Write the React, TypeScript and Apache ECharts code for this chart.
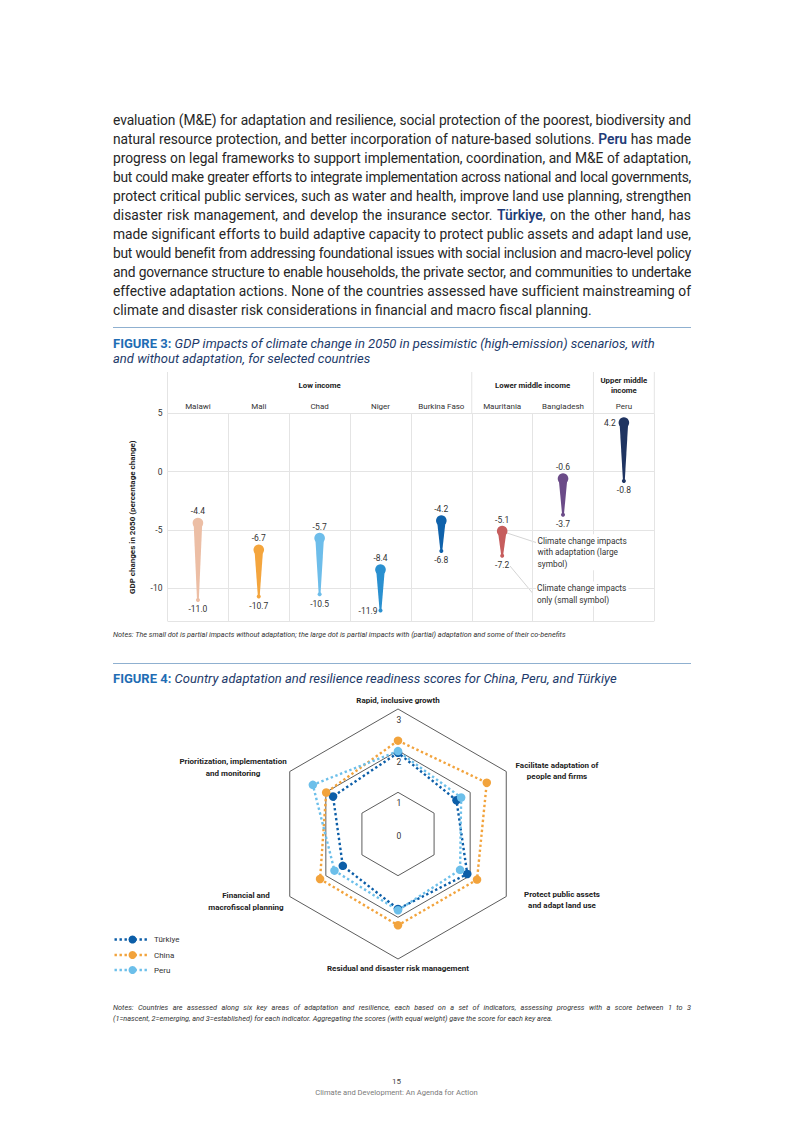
import React, { useEffect, useLayoutEffect, useRef } from "react";
import * as echarts from "echarts";

// ---------------- DATA ----------------
const countries = ["Malawi", "Mali", "Chad", "Niger", "Burkina Faso", "Mauritania", "Bangladesh", "Peru"];
const withAdaptation = [-4.4, -6.7, -5.7, -8.4, -4.2, -5.1, -0.6, 4.2];
const impactsOnly = [-11.0, -10.7, -10.5, -11.9, -6.8, -7.2, -3.7, -0.8];
const countryColors = ["#ecbea5", "#f4a53d", "#6dbdea", "#2a90d0", "#0f62ab", "#c65d5d", "#6b4b88", "#1f3461"];
const incomeGroups = ["Low income", "Lower middle income", "Upper middle\nincome"];
const incomeGroupSpans = [5, 2, 1];
const yTicks = [5, 0, -5, -10];
const yMin = -12.8;
const yMax = 5;

const radarAxes = [
  "Rapid, inclusive growth",
  "Prioritization, implementation\nand monitoring",
  "Financial and\nmacrofiscal planning",
  "Residual and disaster risk management",
  "Protect public assets\nand adapt land use",
  "Facilitate adaptation of\npeople and firms",
];
const radarCountries = ["Türkiye", "China", "Peru"];
const turkiyeScores = [1.95, 1.8, 1.53, 1.8, 1.92, 1.62];
const chinaScores = [2.24, 1.99, 2.16, 2.19, 2.19, 2.46];
const peruScores = [1.99, 2.36, 1.76, 1.83, 1.72, 1.75];
const radarColors = ["#0c5ea8", "#f2a33c", "#6cbfea"];
const radarTicks = [0, 1, 2, 3];

const paragraphLines = [
  "evaluation (M&E) for adaptation and resilience, social protection of the poorest, biodiversity and",
  "natural resource protection, and better incorporation of nature-based solutions. **Peru** has made",
  "progress on legal frameworks to support implementation, coordination, and M&E of adaptation,",
  "but could make greater efforts to integrate implementation across national and local governments,",
  "protect critical public services, such as water and health, improve land use planning, strengthen",
  "disaster risk management, and develop the insurance sector. **Türkiye**, on the other hand, has",
  "made significant efforts to build adaptive capacity to protect public assets and adapt land use,",
  "but would benefit from addressing foundational issues with social inclusion and macro-level policy",
  "and governance structure to enable households, the private sector, and communities to undertake",
  "effective adaptation actions. None of the countries assessed have sufficient mainstreaming of",
  "climate and disaster risk considerations in financial and macro fiscal planning.",
];

const FONT = 'Roboto, "Liberation Sans", Arial, sans-serif';

function rich(s: string) {
  const parts = s.split(/\*\*(.+?)\*\*/);
  return parts.map((p, i) =>
    i % 2 === 1 ? (
      <span key={i} style={{ color: "#1f3c78", fontWeight: 600 }}>{p}</span>
    ) : (
      <React.Fragment key={i}>{p}</React.Fragment>
    )
  );
}

function txt(x: number, y: number, text: string, o: any = {}) {
  const align = o.align || "center";
  const va = o.va || "middle";
  const style: any = {
    text,
    align,
    verticalAlign: va,
    textAlign: align,
    textVerticalAlign: va,
    fontSize: o.size || 8,
    fontWeight: o.weight || "normal",
    fontFamily: FONT,
    fill: o.color || "#333",
    lineHeight: o.lh || 11,
  };
  if (o.bg) {
    style.backgroundColor = o.bg;
    style.padding = [1, 2, 1, 1];
  }
  return { type: "text", x, y, silent: true, z: o.z || 10, style };
}

function line(x1: number, y1: number, x2: number, y2: number, stroke: string, w = 1, dash?: number[]) {
  return {
    type: "line",
    silent: true,
    shape: { x1, y1, x2, y2 },
    style: { stroke, lineWidth: w, lineDash: dash },
  };
}

export default function App() {
  const chartRef = useRef<HTMLDivElement>(null);
  const overlayRef = useRef<HTMLDivElement>(null);

  useLayoutEffect(() => {
    const root = overlayRef.current;
    if (!root) return;
    const lines = root.querySelectorAll<HTMLDivElement>('[data-just="1"]');
    lines.forEach((el) => {
      const parent = el.parentElement;
      if (!parent) return;
      const probe = el.cloneNode(true) as HTMLDivElement;
      probe.removeAttribute("data-just");
      probe.style.position = "absolute";
      probe.style.left = "0px";
      probe.style.top = "0px";
      probe.style.visibility = "hidden";
      probe.style.width = "auto";
      probe.style.whiteSpace = "nowrap";
      probe.style.display = "inline-block";
      probe.style.textAlign = "left";
      probe.style.textAlignLast = "auto";
      probe.style.letterSpacing = "0px";
      parent.appendChild(probe);
      const w = probe.getBoundingClientRect().width;
      parent.removeChild(probe);
      const target = el.getBoundingClientRect().width;
      if (w > target - 3) {
        const n = (el.textContent || "").length;
        el.style.letterSpacing = (target - 3 - w) / n + "px";
      }
    });
  }, []);

  useEffect(() => {
    if (!chartRef.current) return;
    const chart = echarts.init(chartRef.current, null, { renderer: "svg" });

    const G = { left: 167.5, top: 413.3, width: 486.8, height: 207.7 };
    const colW = G.width / countries.length;
    const gridColor = "#e4e4e4";

    const graphics: any[] = [];
    // income group header
    const bounds = [0];
    incomeGroupSpans.forEach((s) => bounds.push(bounds[bounds.length - 1] + s));
    bounds.forEach((b) => graphics.push(line(G.left + b * colW, 372, G.left + b * colW, G.top, gridColor, 1)));
    incomeGroups.forEach((g, i) => {
      const cx = G.left + ((bounds[i] + bounds[i + 1]) / 2) * colW;
      graphics.push(txt(cx, 385.5, g, { weight: "bold", size: 7.8, color: "#222", lh: 10.5 }));
    });
    // annotations
    graphics.push(line(507, 533, 536, 542.5, "#c9c9c9", 0.8));
    graphics.push(line(510, 566, 532.5, 593, "#c9c9c9", 0.8));
    graphics.push(
      txt(536.5, 534.3, "Climate change impacts\nwith adaptation (large\nsymbol)", { align: "left", va: "top", size: 8.3, lh: 11.3, color: "#333", bg: "#fff" })
    );
    graphics.push(
      txt(536, 581.6, "Climate change impacts\nonly (small symbol)", { align: "left", va: "top", size: 8.3, lh: 11.3, color: "#333", bg: "#fff" })
    );

    // radar geometry
    const RC = [398, 834];
    const RR = 125;
    radarTicks.forEach((v) => {
      const y = RC[1] - (v * RR) / radarTicks[radarTicks.length - 1] + (v === 0 ? 2 : 11);
      graphics.push(txt(RC[0] + 1, y, String(v), { size: 8.5, color: "#333", z: 1 }));
    });
    const radarLabelPos = [
      [398, 700],
      [233, 767.5],
      [246, 901.5],
      [398, 968.5],
      [562, 900],
      [557, 771],
    ];
    radarAxes.forEach((n, i) =>
      graphics.push(txt(radarLabelPos[i][0], radarLabelPos[i][1], n, { weight: "bold", size: 8, color: "#222", lh: 11.5 }))
    );
    // legend
    const legendY = [939.5, 955, 970];
    radarCountries.forEach((c, i) => {
      graphics.push(line(114.5, legendY[i], 149.5, legendY[i], radarColors[i], 2.4, [2.4, 2.6]));
      graphics.push({
        type: "circle",
        silent: true,
        shape: { cx: 132.5, cy: legendY[i], r: 4 },
        style: { fill: radarColors[i] },
      });
      graphics.push(txt(154, legendY[i], c, { align: "left", size: 8, color: "#333" }));
    });

    const scoreSets = [turkiyeScores, chinaScores, peruScores];

    const option: any = {
      animation: false,
      textStyle: { fontFamily: FONT },
      grid: { left: G.left, top: G.top, width: G.width, height: G.height, containLabel: false },
      xAxis: {
        type: "category",
        position: "top",
        data: countries,
        boundaryGap: true,
        axisLine: { show: false },
        axisTick: { show: true, length: 18, inside: false, lineStyle: { color: gridColor, width: 1 } },
        axisLabel: { margin: 3, fontSize: 8, color: "#333", interval: 0 },
        splitLine: { show: true, interval: 0, lineStyle: { color: gridColor, width: 1 } },
      },
      yAxis: {
        type: "value",
        min: yMin,
        max: yMax,
        splitNumber: 4,
        minInterval: 5,
        axisLine: { show: false },
        axisTick: { show: false },
        axisLabel: {
          fontSize: 8.5,
          color: "#333",
          margin: 5,
          formatter: (v: number) => (yTicks.some((t) => Math.abs(t - v) < 1e-6) ? String(v) : ""),
        },
        splitLine: { show: true, lineStyle: { color: gridColor, width: 1 } },
        name: "GDP changes in 2050 (percentage change)",
        nameLocation: "middle",
        nameRotate: 90,
        nameGap: 31,
        nameTextStyle: { fontSize: 8, fontWeight: "bold", color: "#222" },
      },
      radar: {
        center: RC,
        radius: RR,
        startAngle: 90,
        splitNumber: 3,
        shape: "polygon",
        indicator: radarAxes.map((n) => ({ name: n, min: 0, max: 3 })),
        axisName: { show: false },
        axisLine: { show: false },
        axisTick: { show: false },
        axisLabel: { show: false },
        splitLine: { lineStyle: { color: "#4a4a4a", width: 0.9 } },
        splitArea: { show: false },
      },
      series: [
        {
          type: "custom",
          xAxisIndex: 0,
          yAxisIndex: 0,
          data: countries.map((c, i) => [i, withAdaptation[i], impactsOnly[i]]),
          encode: { x: 0, y: [1, 2] },
          renderItem: (params: any, api: any) => {
            const i = params.dataIndex;
            const top = api.coord([api.value(0), api.value(1)]);
            const bot = api.coord([api.value(0), api.value(2)]);
            const c = countryColors[i];
            const name = countries[i];
            const topLabel = (api.value(1) as number).toFixed(1);
            const botLabel = (api.value(2) as number).toFixed(1);
            const labelStyle = (text: string, align: string) => ({
              text,
              align,
              verticalAlign: "middle",
              textAlign: align,
              textVerticalAlign: "middle",
              fontSize: 8.5,
              fontFamily: FONT,
              fill: "#333",
            });
            const topLeft = name === "Peru";
            const botLeft = name === "Niger";
            return {
              type: "group",
              children: [
                {
                  type: "polygon",
                  shape: {
                    points: [
                      [top[0] - 4.3, top[1]],
                      [top[0] + 4.3, top[1]],
                      [bot[0] + 0.9, bot[1]],
                      [bot[0] - 0.9, bot[1]],
                    ],
                  },
                  style: { fill: c },
                },
                { type: "circle", shape: { cx: top[0], cy: top[1], r: 5.3 }, style: { fill: c } },
                { type: "circle", shape: { cx: bot[0], cy: bot[1], r: 2 }, style: { fill: c } },
                {
                  type: "text",
                  x: topLeft ? top[0] - 8 : top[0],
                  y: topLeft ? top[1] : top[1] - 11.5,
                  style: labelStyle(topLabel, topLeft ? "right" : "center"),
                },
                {
                  type: "text",
                  x: botLeft ? bot[0] - 3 : bot[0],
                  y: botLeft ? bot[1] + 1 : bot[1] + 9.5,
                  style: labelStyle(botLabel, botLeft ? "right" : "center"),
                },
              ],
            };
          },
          z: 3,
        },
        {
          type: "radar",
          radarIndex: 0,
          symbol: "circle",
          symbolSize: 8.5,
          emphasis: { disabled: true },
          data: radarCountries.map((c, i) => ({
            name: c,
            value: scoreSets[i],
            lineStyle: { color: radarColors[i], width: 2.4, type: [2.4, 2.6] },
            itemStyle: { color: radarColors[i] },
          })),
        },
      ],
      graphic: graphics,
    };

    chart.setOption(option);
    return () => chart.dispose();
  }, []);

  const sepStyle: React.CSSProperties = {
    position: "absolute",
    left: 113,
    width: 578,
    height: 0,
    borderTop: "1px solid #8fb0d0",
  };

  const LH = 19;

  return (
    <div style={{ position: "absolute", left: 0, top: 0, width: 793, height: 1122, background: "#fff", overflow: "hidden" }}>
      <div ref={chartRef} style={{ position: "absolute", left: 0, top: 0, width: 793, height: 1122 }} />
      <div ref={overlayRef} style={{ position: "absolute", left: 0, top: 0, width: 793, height: 1122, pointerEvents: "none", fontFamily: FONT }}>
        {/* paragraph */}
        <div style={{ position: "absolute", left: 113, top: 120.5 - LH / 2, width: 578, fontSize: 13.8, color: "#262626" }}>
          {paragraphLines.map((l, i) => (
            <div
              key={i}
              data-just={i < paragraphLines.length - 1 ? "1" : "0"}
              style={{
                height: LH,
                lineHeight: LH + "px",
                width: 578,
                textAlign: i < paragraphLines.length - 1 ? "justify" : "left",
                textAlignLast: i < paragraphLines.length - 1 ? "justify" : "auto",
                whiteSpace: "nowrap",
              }}
            >
              {rich(l)}
            </div>
          ))}
        </div>
        <div style={{ ...sepStyle, top: 327 }} />
        {/* figure 3 title */}
        <div style={{ position: "absolute", left: 113, top: 337, width: 590, fontSize: 13, lineHeight: "14.5px", color: "#1d3a6a" }}>
          <span style={{ fontWeight: 700, color: "#1f6db4" }}>FIGURE 3:</span>
          <span style={{ fontStyle: "italic" }}> GDP impacts of climate change in 2050 in pessimistic (high-emission) scenarios, with</span>
          <br />
          <span style={{ fontStyle: "italic" }}>and without adaptation, for selected countries</span>
        </div>
        <div style={{ position: "absolute", left: 113, top: 629.5, fontSize: 7.3, lineHeight: "9px", fontStyle: "italic", color: "#333", whiteSpace: "nowrap" }}>
          Notes: The small dot is partial impacts without adaptation; the large dot is partial impacts with (partial) adaptation and some of their co-benefits
        </div>
        <div style={{ ...sepStyle, top: 663 }} />
        {/* figure 4 title */}
        <div style={{ position: "absolute", left: 113, top: 671.5, width: 590, fontSize: 13, lineHeight: "14.5px", color: "#1d3a6a" }}>
          <span style={{ fontWeight: 700, color: "#1f6db4" }}>FIGURE 4:</span>
          <span style={{ fontStyle: "italic" }}> Country adaptation and resilience readiness scores for China, Peru, and Türkiye</span>
        </div>
        <div style={{ position: "absolute", left: 113, top: 1001.5, width: 578, fontSize: 7.3, lineHeight: "11px", fontStyle: "italic", color: "#333" }}>
          <div data-just="1" style={{ width: 578, textAlign: "justify", textAlignLast: "justify", whiteSpace: "nowrap" }}>
            Notes: Countries are assessed along six key areas of adaptation and resilience, each based on a set of indicators, assessing progress with a score between 1 to 3
          </div>
          <div style={{ whiteSpace: "nowrap" }}>
            (1=nascent, 2=emerging, and 3=established) for each indicator. Aggregating the scores (with equal weight) gave the score for each key area.
          </div>
        </div>
        {/* footer */}
        <div style={{ position: "absolute", left: 0, width: 793, top: 1077, textAlign: "center", fontSize: 8, lineHeight: "10px", color: "#444" }}>15</div>
        <div style={{ position: "absolute", left: 0, width: 793, top: 1087.5, textAlign: "center", fontSize: 7.6, lineHeight: "10px", color: "#7a7a7a" }}>
          Climate and Development: An Agenda for Action
        </div>
      </div>
    </div>
  );
}
